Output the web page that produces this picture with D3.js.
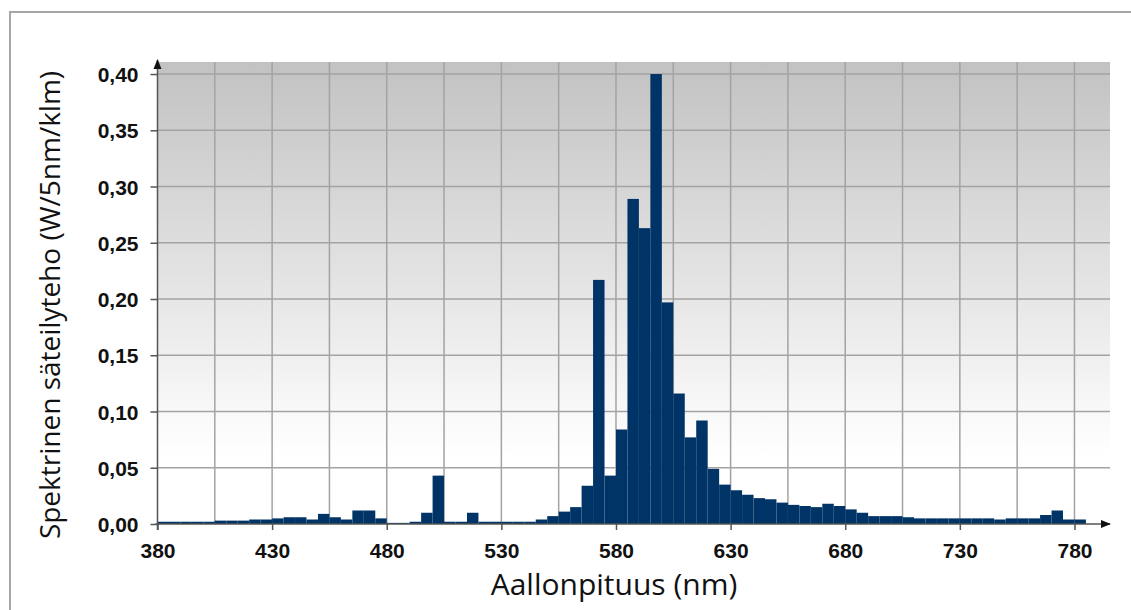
<!DOCTYPE html>
<html>
<head>
<meta charset="utf-8">
<script src="https://cdn.jsdelivr.net/npm/d3@7"></script>
<style>
  body { margin: 0; background: #fff; }
  svg { display: block; }
</style>
</head>
<body>
<svg id="chart" width="1131" height="610"></svg>
<script>
// aallonpituudet (nm), 5 nm välein
const wavelengths = [
  380, 385, 390, 395, 400, 405, 410, 415, 420, 425,
  430, 435, 440, 445, 450, 455, 460, 465, 470, 475,
  480, 485, 490, 495, 500, 505, 510, 515, 520, 525,
  530, 535, 540, 545, 550, 555, 560, 565, 570, 575,
  580, 585, 590, 595, 600, 605, 610, 615, 620, 625,
  630, 635, 640, 645, 650, 655, 660, 665, 670, 675,
  680, 685, 690, 695, 700, 705, 710, 715, 720, 725,
  730, 735, 740, 745, 750, 755, 760, 765, 770, 775,
  780
];
// säteilyteho W/5nm/klm
const power = [
  0.002, 0.002, 0.002, 0.002, 0.002, 0.003, 0.003, 0.003, 0.004, 0.004,
  0.005, 0.006, 0.006, 0.004, 0.009, 0.006, 0.004, 0.012, 0.012, 0.005,
  0.001, 0.001, 0.002, 0.010, 0.043, 0.002, 0.002, 0.010, 0.002, 0.002,
  0.002, 0.002, 0.002, 0.004, 0.007, 0.011, 0.015, 0.034, 0.217, 0.043,
  0.084, 0.289, 0.263, 0.400, 0.197, 0.116, 0.077, 0.092, 0.049, 0.035,
  0.030, 0.026, 0.023, 0.022, 0.019, 0.017, 0.016, 0.015, 0.018, 0.016,
  0.013, 0.010, 0.007, 0.007, 0.007, 0.006, 0.005, 0.005, 0.005, 0.005,
  0.005, 0.005, 0.005, 0.004, 0.005, 0.005, 0.005, 0.008, 0.012, 0.004,
  0.004
];
const xTicks = [380, 430, 480, 530, 580, 630, 680, 730, 780];
const xGrid = [405, 430, 455, 480, 505, 530, 555, 580, 605, 630, 655, 680, 705, 730, 755, 780];
const yTicks = [0, 0.05, 0.10, 0.15, 0.20, 0.25, 0.30, 0.35, 0.40];
const binWidth = 5;

const svg = d3.select("#chart");
const plotLeft = 157.5, plotRight = 1110, plotTop = 62, plotBottom = 524;

const x = d3.scaleLinear().domain([380, 795.5]).range([plotLeft, plotRight]);
const y = d3.scaleLinear().domain([0, 0.4107]).range([plotBottom, plotTop]);

const fi = d3.formatLocale({ decimal: ",", thousands: " ", grouping: [3], currency: ["", "€"] });
const fmt = fi.format(".2f");

// kehys
svg.append("rect")
  .attr("x", 10).attr("y", 12)
  .attr("width", 1140).attr("height", 620)
  .attr("fill", "none")
  .attr("stroke", "#a6a6a6")
  .attr("stroke-width", 2);

// taustan liukuväri
const defs = svg.append("defs");
const grad = defs.append("linearGradient")
  .attr("id", "bg").attr("x1", 0).attr("y1", 0).attr("x2", 0).attr("y2", 1);
grad.append("stop").attr("offset", "0%").attr("stop-color", "#c2c2c2");
grad.append("stop").attr("offset", "45%").attr("stop-color", "#e2e2e2");
grad.append("stop").attr("offset", "85%").attr("stop-color", "#ffffff");
grad.append("stop").attr("offset", "100%").attr("stop-color", "#ffffff");

const arrow = defs.append("marker")
  .attr("id", "arrow")
  .attr("viewBox", "0 0 10 10")
  .attr("refX", 9).attr("refY", 5)
  .attr("markerWidth", 10).attr("markerHeight", 10)
  .attr("markerUnits", "userSpaceOnUse")
  .attr("orient", "auto");
arrow.append("path").attr("d", "M0,1 L10,5 L0,9 Z").attr("fill", "#111");

svg.append("rect")
  .attr("x", plotLeft).attr("y", plotTop)
  .attr("width", plotRight - plotLeft).attr("height", plotBottom - plotTop)
  .attr("fill", "url(#bg)");

// ruudukko
svg.append("g")
  .selectAll("line")
  .data(xGrid)
  .join("line")
  .attr("x1", d => x(d)).attr("x2", d => x(d))
  .attr("y1", plotTop).attr("y2", plotBottom)
  .attr("stroke", "#a3a3a3")
  .attr("stroke-width", 1.5);

svg.append("g")
  .selectAll("line")
  .data(yTicks.slice(1))
  .join("line")
  .attr("x1", plotLeft).attr("x2", plotRight)
  .attr("y1", d => y(d)).attr("y2", d => y(d))
  .attr("stroke", "#a3a3a3")
  .attr("stroke-width", 1.5);

// pylväät
svg.append("g")
  .selectAll("rect")
  .data(wavelengths)
  .join("rect")
  .attr("x", d => x(d))
  .attr("width", d => x(d + binWidth) - x(d))
  .attr("y", (d, i) => y(power[i]))
  .attr("height", (d, i) => plotBottom - y(power[i]))
  .attr("fill", "#003466");

// akselit
const yAxis = d3.axisLeft(y)
  .tickValues(yTicks)
  .tickSize(7)
  .tickFormat(fmt);
const gy = svg.append("g")
  .attr("transform", `translate(${plotLeft},0)`)
  .call(yAxis);
gy.select(".domain").remove();
gy.selectAll(".tick line").attr("stroke", "#555").attr("stroke-width", 1.5);
gy.selectAll(".tick text")
  .attr("x", -19)
  .attr("dy", "0.36em")
  .attr("fill", "#111")
  .style("font-family", "'Liberation Sans', Arial, sans-serif")
  .style("font-weight", "bold")
  .style("font-size", "21px");

const xAxis = d3.axisBottom(x)
  .tickValues(xTicks)
  .tickSize(6)
  .tickFormat(d3.format("d"));
const gx = svg.append("g")
  .attr("transform", `translate(0,${plotBottom})`)
  .call(xAxis);
gx.select(".domain").remove();
gx.selectAll(".tick line").attr("stroke", "#555").attr("stroke-width", 1.5);
gx.selectAll(".tick text")
  .attr("y", 19)
  .attr("fill", "#111")
  .style("font-family", "'Liberation Sans', Arial, sans-serif")
  .style("font-weight", "bold")
  .style("font-size", "21px");

svg.append("line")
  .attr("x1", plotLeft).attr("x2", plotLeft)
  .attr("y1", plotBottom + 6).attr("y2", plotTop - 2)
  .attr("stroke", "#555").attr("stroke-width", 1.5)
  .attr("marker-end", "url(#arrow)");

svg.append("line")
  .attr("x1", plotLeft - 2).attr("x2", plotRight)
  .attr("y1", plotBottom).attr("y2", plotBottom)
  .attr("stroke", "#555").attr("stroke-width", 1.5)
  .attr("marker-end", "url(#arrow)");

// akselien otsikot
svg.append("text")
  .attr("x", 614).attr("y", 595)
  .attr("text-anchor", "middle")
  .attr("fill", "#111")
  .style("font-family", "'Open Sans', sans-serif")
  .style("font-size", "30px")
  .text("Aallonpituus (nm)");

svg.append("text")
  .attr("transform", "translate(60,305) rotate(-90)")
  .attr("text-anchor", "middle")
  .attr("fill", "#111")
  .style("font-family", "'Open Sans', sans-serif")
  .style("font-size", "28px")
  .text("Spektrinen säteilyteho (W/5nm/klm)");
</script>
</body>
</html>
